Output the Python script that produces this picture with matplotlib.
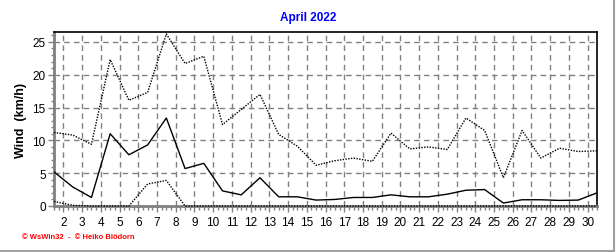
import numpy as np
import matplotlib
matplotlib.use("Agg")
import matplotlib.pyplot as plt
from matplotlib.lines import Line2D
from matplotlib.ticker import MultipleLocator

plt.rcParams["font.family"] = ["Liberation Sans", "DejaVu Sans"]

# ----------------------------
# Data: daily wind, April 2022 (km/h)
# ----------------------------
days = list(range(1, 31))

wind_avg = [5.2, 2.9, 1.3, 11.0, 7.8, 9.3, 13.4, 5.7, 6.5, 2.3,
            1.7, 4.3, 1.4, 1.4, 0.9, 1.0, 1.3, 1.3, 1.7, 1.4,
            1.4, 1.8, 2.4, 2.5, 0.45, 0.95, 0.95, 0.85, 0.9, 2.0]

wind_max = [11.2, 10.8, 9.4, 22.3, 16.1, 17.3, 26.2, 21.7, 22.8, 12.4,
            14.7, 17.0, 10.9, 9.1, 6.2, 6.9, 7.3, 6.8, 11.1, 8.7,
            9.0, 8.6, 13.4, 11.5, 4.3, 11.5, 7.3, 8.8, 8.3, 8.4]

wind_min = [0.7, 0.1, 0.0, 0.0, 0.0, 3.35, 3.9, 0.0, 0.0, 0.0,
            0.0, 0.0, 0.0, 0.0, 0.0, 0.0, 0.0, 0.0, 0.0, 0.0,
            0.0, 0.0, 0.0, 0.0, 0.0, 0.0, 0.0, 0.0, 0.0, 0.0]

x_ticks = list(range(2, 31))
y_ticks = [0, 5, 10, 15, 20, 25]

# values are drawn in the middle of each day
x = np.array(days) + 0.5

# ----------------------------
# Figure
# ----------------------------
fig = plt.figure(figsize=(6.16, 2.53), dpi=100)
ax = fig.add_axes([54 / 616, 46 / 253, 543 / 616, 174 / 253])

grid_kw = dict(color="#808080", linewidth=1, linestyle=(0, (4, 3)))
for xt in x_ticks:
    ax.axvline(xt, zorder=1, **grid_kw)
for yt in y_ticks[1:]:
    ax.axhline(yt, zorder=1, **grid_kw)

dots = (0, (1, 1))
ax.plot(x, wind_max, color="black", linewidth=1, linestyle=dots, zorder=3)
ax.plot(x, wind_avg, color="black", linewidth=1, zorder=3)
ax.plot(x, wind_min, color="black", linewidth=1, linestyle=dots, zorder=4,
        clip_on=False)

ax.set_xlim(1.5, 30.5)
ax.set_ylim(0, 26.5)

ax.set_xticks(x_ticks)
ax.set_xticklabels([str(t) for t in x_ticks], fontsize=8.5)
ax.xaxis.set_minor_locator(MultipleLocator(0.25))
ax.set_yticks(y_ticks)
ax.set_yticklabels([str(t) for t in y_ticks], fontsize=8.5)
ax.yaxis.set_minor_locator(MultipleLocator(1))

ax.tick_params(axis="x", which="major", direction="out", length=4, width=1,
               color="#808080", pad=3)
ax.tick_params(axis="x", which="minor", direction="out", length=3, width=1,
               color="#808080")
ax.tick_params(axis="y", which="major", direction="out", length=4, width=1,
               color="#808080", pad=2)
ax.tick_params(axis="y", which="minor", direction="out", length=2, width=1,
               color="#808080")

for side in ["left", "bottom"]:
    ax.spines[side].set_color("#808080")
    ax.spines[side].set_linewidth(2)
for side in ["top", "right"]:
    ax.spines[side].set_color("black")
    ax.spines[side].set_linewidth(1.2)

ax.set_ylabel("Wind  (km/h)", fontsize=9, fontweight="bold", labelpad=4)

fig.text(308 / 616, 1 - 18 / 253, "April 2022", color="#0000ff",
         fontsize=8.5, fontweight="bold", ha="center", va="center")

fig.text(22 / 616, 1 - 238 / 253, "\u00a9 WsWin32  -  \u00a9 Heiko Bl\u00f6dorn",
         color="#ff0000", fontsize=5.5, fontweight="bold",
         ha="left", va="center")

# light grey frame on right and bottom edge
fig.add_artist(Line2D([614 / 616, 614 / 616], [0, 1], color="#a0a0a0",
                      linewidth=1.5, transform=fig.transFigure))
fig.add_artist(Line2D([0, 614 / 616], [1.5 / 253, 1.5 / 253], color="#a0a0a0",
                      linewidth=1.5, transform=fig.transFigure))

fig.savefig("out.png", dpi=100, facecolor="white")
